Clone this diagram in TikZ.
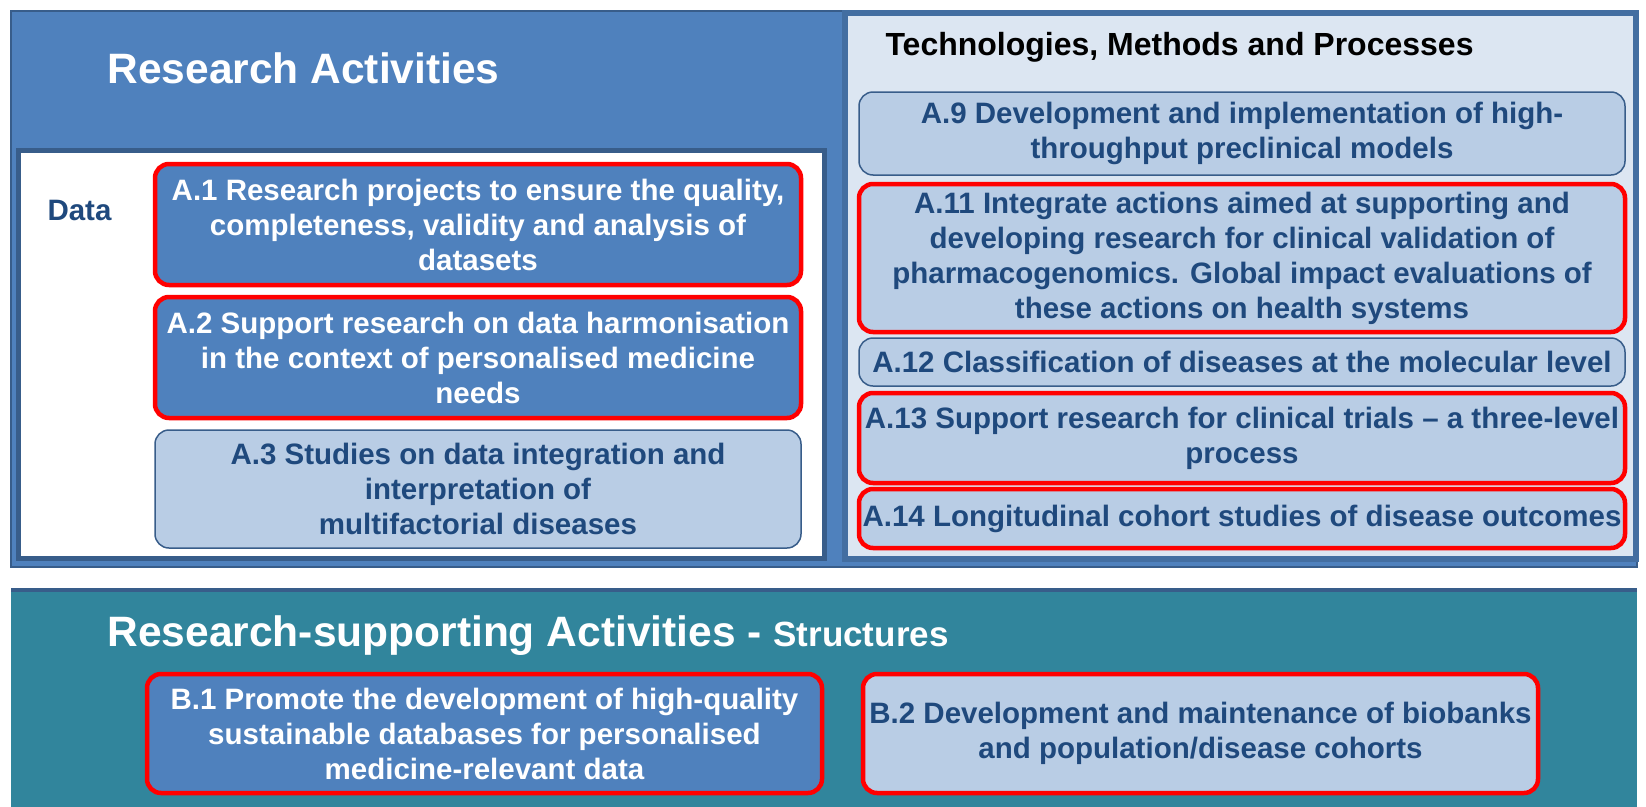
\documentclass[tikz,border=0pt]{standalone}
\usepackage{fontspec}
\setmainfont{Liberation Sans}
\usepackage{tikz}
\usetikzlibrary{positioning}

\definecolor{ppblue}{HTML}{4F81BD}
\definecolor{ppdark}{HTML}{385D8A}
\definecolor{pplight}{HTML}{B9CDE5}
\definecolor{pppale}{HTML}{DCE6F2}
\definecolor{ppteal}{HTML}{31859C}
\definecolor{pptext}{HTML}{1F497D}

\begin{document}
\begin{tikzpicture}[
            x = 1pt, y = -1pt, % pixel units, y grows downwards
            font = \bfseries\fontsize{29.5}{35}\selectfont,
            box/.style = {rounded corners=14pt, align=center, inner sep=2pt},
            dark/.style = {box, fill=ppblue, text=white},
            pale/.style = {box, fill=pplight, text=pptext, draw=ppdark, line width=1.5pt},
            hot/.style = {draw=red, line width=4.5pt}, % highlighted activity
            title/.style = {anchor=west, text=white, font=\bfseries\fontsize{42.5}{48}\selectfont}
        ]

	\useasboundingbox (0,0) rectangle (1646,806);

	% panels
	\draw[fill=ppblue, draw=ppdark, line width=2pt] (11,11) rectangle (1637,567);
	\draw[fill=white, draw=ppdark, line width=5pt] (18,150) rectangle (824,558);
	\draw[fill=pppale, draw=ppblue!85!black, line width=6pt] (845,13) rectangle (1636,559);
	\fill[ppteal] (11,590) rectangle (1637,820);
	\draw[ppdark, line width=4pt] (11,590) -- (1637,590);

	\node[title] (research) at (104,68) {Research Activities};
	\node[anchor=west, text=pptext] (data) at (44,210) {Data};
	\node[anchor=west, text=black, font=\bfseries\fontsize{32}{38}\selectfont] (tech) at (882,47) {Technologies, Methods and Processes};
	\node[title] (support) at (104,636) {Research-supporting Activities - {\fontsize{35}{40}\selectfont Structures}};

	% data
	\node[dark, hot, minimum width=646, minimum height=121] (a1) at (478,224.5)
		{A.1 Research projects to ensure the quality,\\ completeness, validity and analysis of\\ datasets};
	\node[dark, hot, minimum width=646, minimum height=121] (a2) at (478,357.5)
		{A.2 Support research on data harmonisation\\ in the context of personalised medicine\\ needs};
	\node[pale, minimum width=646, minimum height=118] (a3) at (478,489)
		{A.3 Studies on data integration and\\ interpretation of\\ multifactorial diseases};

	% technologies
	\node[pale, minimum width=766, minimum height=83] (a9) at (1242,133.5)
		{A.9 Development and implementation of high-\\ throughput preclinical models};
	\node[pale, hot, minimum width=766, minimum height=148] (a11) at (1242,258)
		{A.11 Integrate actions aimed at supporting and\\ developing research for clinical validation of\\ pharmacogenomics. Global impact evaluations of\\ these actions on health systems};
	\node[pale, minimum width=766, minimum height=48] (a12) at (1242,362)
		{A.12 Classification of diseases at the molecular level};
	\node[pale, hot, minimum width=766, minimum height=90] (a13) at (1242,438)
		{A.13 Support research for clinical trials -- a three-level\\ process};
	\node[pale, hot, minimum width=766, minimum height=59] (a14) at (1242,518.5)
		{A.14 Longitudinal cohort studies of disease outcomes};

	% structures
	\node[dark, hot, minimum width=675, minimum height=119] (b1) at (484.5,733.5)
		{B.1 Promote the development of high-quality\\ sustainable databases for personalised\\ medicine-relevant data};
	\node[pale, hot, minimum width=675, minimum height=119] (b2) at (1200.5,733.5)
		{B.2 Development and maintenance of biobanks\\ and population/disease cohorts};

\end{tikzpicture}
\end{document}
